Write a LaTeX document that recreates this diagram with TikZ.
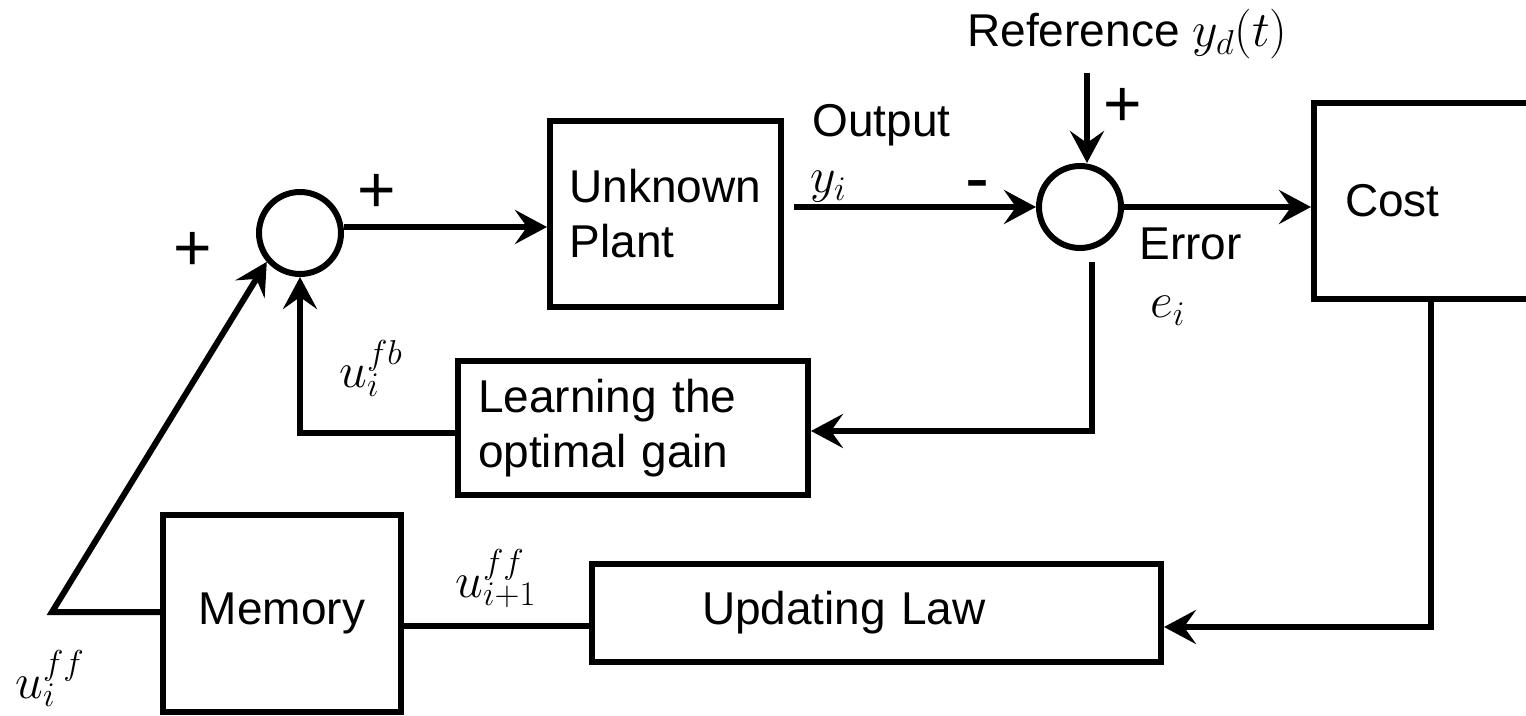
\documentclass[tikz,border=0pt]{standalone}
\usepackage{fontspec}
\setmainfont{Liberation Sans}
\usetikzlibrary{arrows.meta,calc}

\tikzset{
  wire/.style={line width=3pt, black},
  flow/.style={wire, -{Stealth[length=16pt, width=17pt, inset=6pt]}},
  blk/.style={draw, line width=3pt, rectangle, inner sep=0pt,
              font=\fontsize{23}{27.5}\selectfont},
  sumnode/.style={draw, line width=3pt, circle, inner sep=0pt, minimum size=41pt},
  lbl/.style={inner sep=0pt, font=\fontsize{23}{27.5}\selectfont},
  sgn/.style={inner sep=0pt, font=\fontsize{33}{33}\selectfont},
}

\begin{document}
\begin{tikzpicture}[x=0.5pt, y=-0.5pt]
  \useasboundingbox (0,0) rectangle (1526,716);
  \clip (0,0) rectangle (1526,716);

  % summing junctions
  \node[sumnode] (s1) at (300,233) {};
  \node[sumnode] (s2) at (1080,207) {};

  % blocks
  \node[blk, minimum width=115.5pt, minimum height=93pt, align=left]
       (plant) at (665.5,214) {Unknown\\Plant};
  \node[blk, minimum width=175pt, minimum height=67pt, text width=155pt, align=left]
       (learn) at (633,428) {Learning the\\optimal gain};
  \node[blk, minimum width=284.5pt, minimum height=49pt, text width=174.5pt, align=left]
       (upd) at (876.5,613) {Updating Law};
  \node[blk, minimum width=119pt, minimum height=98.5pt]
       (mem) at (282,613.5) {Memory};
  \node[blk, minimum width=123pt, minimum height=98pt, text width=92pt, align=left]
       (cost) at (1437,201) {Cost};

  % free ends and bends
  \coordinate (refin) at (1087,73);
  \coordinate (errout) at (1092,262);
  \coordinate (costout) at (1431,299);
  \coordinate (corner) at (52,612);

  % signal paths
  \draw[flow] ([yshift=3pt]s1.east) -- ([yshift=3pt]s1.east -| plant.west);
  \draw[flow] ([xshift=5pt]plant.east |- s2.west) -- (s2.west);
  \draw[flow] (refin) -- (refin |- s2.north);
  \draw[flow] (s2.east) -- (cost.west |- s2.east);
  \draw[flow] (errout) |- ([yshift=-1.5pt]learn.east);
  \draw[flow] ([yshift=-2.5pt]learn.west) -| (s1.south);
  \draw[flow] (costout) |- ([yshift=-7pt]upd.east);
  \draw[wire] ([yshift=-6.5pt]upd.west) -- ([yshift=-6.5pt]upd.west -| mem.east);
  \draw[flow] (mem.west |- corner) -- (corner) -- (s1.221);

  % signal labels
  \node[lbl, anchor=base west] (outlbl) at (812,137) {Output};
  \node[lbl, anchor=base west] (ylbl) at (810,193) {$y_i$};
  \node[lbl, anchor=base west] (reflbl) at (967,47) {Reference $y_d(t)$};
  \node[lbl, anchor=base west] (errlbl) at (1139,260) {Error};
  \node[lbl, anchor=base west] (elbl) at (1150,318) {$e_i$};
  \node[lbl, anchor=base west] (fblbl) at (339,388) {$u_i^{fb}$};
  \node[lbl, anchor=base west] (ffnext) at (455,597) {$u_{i+1}^{ff}$};
  \node[lbl, anchor=base west] (ffcur) at (15,698) {$u_i^{ff}$};

  % junction signs
  \node[sgn] (p1) at (377,193) {+};
  \node[sgn] (p2) at (193,251) {+};
  \node[sgn] (p3) at (1123,107) {+};
  \node[sgn, font=\fontsize{36}{36}\selectfont] (m1) at (977,192) {-};
\end{tikzpicture}
\end{document}
